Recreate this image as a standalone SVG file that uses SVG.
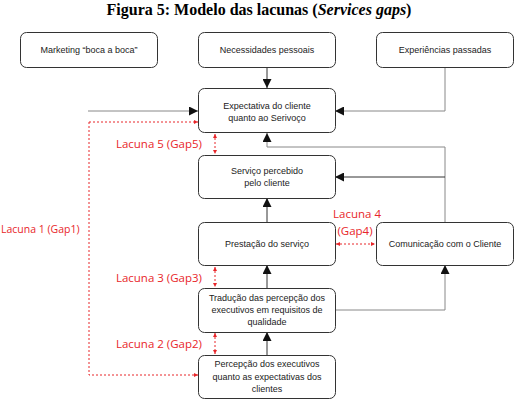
<svg xmlns="http://www.w3.org/2000/svg" width="518" height="408" viewBox="0 0 518 408">
<style>
.box{fill:#fff;stroke:#333;stroke-width:1}
.t{font-family:"Liberation Sans",Arial,sans-serif;font-size:9px;fill:#222;text-anchor:middle}
.title{font-family:"Liberation Serif","Times New Roman",serif;font-size:16px;font-weight:bold;fill:#000;text-anchor:middle}
.red{font-family:"Open Sans","Liberation Sans",sans-serif;font-size:11.5px;fill:#e8262a}
.red.s{font-size:10.5px}
.c{fill:none;stroke:#333;stroke-width:1}
.cg{fill:none;stroke:#888;stroke-width:1}
.gap{fill:none;stroke:#e8262a;stroke-width:1;stroke-dasharray:2,2}
</style>
<defs>
<marker id="ah" viewBox="0 0 10 10" refX="10" refY="5" markerWidth="9" markerHeight="9" markerUnits="userSpaceOnUse" orient="auto"><path d="M0,0 L10,5 L0,10 z" fill="#111"/></marker>
<marker id="rh" viewBox="0 0 10 10" refX="10" refY="5" markerWidth="4" markerHeight="4" markerUnits="userSpaceOnUse" orient="auto-start-reverse"><path d="M0,0 L10,5 L0,10 z" fill="#e8262a"/></marker>
</defs>
<rect width="518" height="408" fill="#fff"/>
<text class="title" x="259" y="15">Figura 5: Modelo das lacunas (<tspan font-style="italic">Services gaps</tspan>)</text>

<g id="connectors">
<path class="c" d="M267,67 V88" marker-end="url(#ah)"/>
<path class="cg" d="M88,111 H198" marker-end="url(#ah)"/>
<path class="cg" d="M445,67 V111 H335" marker-end="url(#ah)"/>
<path class="cg" d="M445,222 V147 H267 V133" marker-end="url(#ah)"/>
<path class="c" d="M445,177 H335" marker-end="url(#ah)"/>
<path class="c" d="M267,222 V198" marker-end="url(#ah)"/>
<path class="c" d="M267,288 V265" marker-end="url(#ah)"/>
<path class="cg" d="M335,310 H445 V265" marker-end="url(#ah)"/>
<path class="c" d="M267,355 V332" marker-end="url(#ah)"/>
<path class="gap" d="M89,122 H198" marker-end="url(#rh)"/>
<path class="gap" d="M89,122 V375 H198" marker-end="url(#rh)"/>
<path class="gap" d="M215,134 V154" marker-start="url(#rh)" marker-end="url(#rh)"/>
<path class="gap" d="M336,244 H375" marker-start="url(#rh)" marker-end="url(#rh)"/>
<path class="gap" d="M215,267 V287" marker-start="url(#rh)" marker-end="url(#rh)"/>
<path class="gap" d="M215,333 V354" marker-start="url(#rh)" marker-end="url(#rh)"/>
</g>

<g id="marketing"><rect class="box" x="20.5" y="32.5" width="137" height="35" rx="6"/><text class="t" x="89" y="53">Marketing “boca a boca”</text></g>
<g id="necessidades"><rect class="box" x="198.5" y="32.5" width="137" height="35" rx="6"/><text class="t" x="267" y="53">Necessidades pessoais</text></g>
<g id="experiencias"><rect class="box" x="376.5" y="32.5" width="137" height="35" rx="6"/><text class="t" x="445" y="53">Experiências passadas</text></g>
<g id="expectativa"><rect class="box" x="198.5" y="88.5" width="137" height="44" rx="6"/><text class="t" x="267" y="109">Expectativa do cliente</text><text class="t" x="267" y="121">quanto ao Serivoço</text></g>
<g id="servico"><rect class="box" x="198.5" y="155.5" width="137" height="43" rx="6"/><text class="t" x="267" y="174">Serviço percebido</text><text class="t" x="267" y="186">pelo cliente</text></g>
<g id="prestacao"><rect class="box" x="198.5" y="222.5" width="137" height="43" rx="6"/><text class="t" x="267" y="247">Prestação do serviço</text></g>
<g id="comunicacao"><rect class="box" x="376.5" y="222.5" width="137" height="43" rx="6"/><text class="t" x="445" y="247">Comunicação com o Cliente</text></g>
<g id="traducao"><rect class="box" x="198.5" y="288.5" width="137" height="44" rx="6"/><text class="t" x="267" y="301">Tradução das percepção dos</text><text class="t" x="267" y="313">executivos em requisitos de</text><text class="t" x="267" y="325">qualidade</text></g>
<g id="percepcao"><rect class="box" x="198.5" y="355.5" width="137" height="43" rx="6"/><text class="t" x="267" y="367">Percepção dos executivos</text><text class="t" x="267" y="380">quanto as expectativas dos</text><text class="t" x="267" y="392">clientes</text></g>

<g id="labels">
<text class="red" x="202" y="148" text-anchor="end">Lacuna 5 (Gap5)</text>
<text class="red s" x="1" y="233">Lacuna 1 (Gap1)</text>
<text class="red" x="357" y="218" text-anchor="middle">Lacuna 4</text>
<text class="red" x="355" y="235" text-anchor="middle">(Gap4)</text>
<text class="red" x="202" y="282" text-anchor="end">Lacuna 3 (Gap3)</text>
<text class="red" x="202" y="348" text-anchor="end">Lacuna 2 (Gap2)</text>
</g>
</svg>
